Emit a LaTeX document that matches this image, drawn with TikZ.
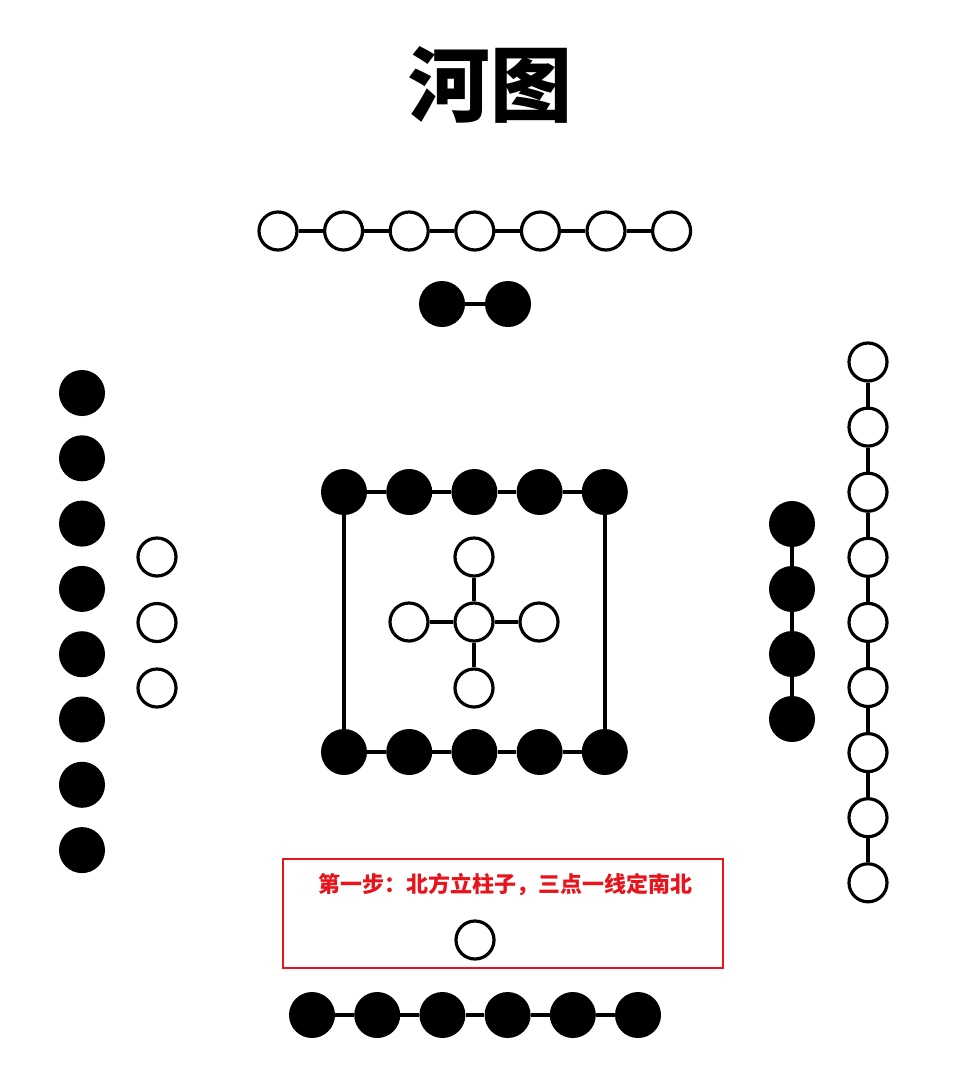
\documentclass[tikz,border=0pt]{standalone}
\usepackage{fontspec}
\newfontfamily\cjk{Noto Sans CJK SC}
\usepackage{tikz}
\definecolor{stepred}{HTML}{E8141C}
\tikzset{
  yang/.style={circle, draw=black, fill=white, line width=3.2pt, minimum size=38pt, inner sep=0pt},
  yin/.style={circle, fill=black, minimum size=46pt, inner sep=0pt},
  rod/.style={line width=3.5pt}
}

\begin{document}
\begin{tikzpicture}[x=1pt, y=-1pt]
\useasboundingbox[fill=white] (0,0) rectangle (955,1066);
\node[font=\cjk\bfseries\fontsize{82}{82}\selectfont] (title) at (490,85) {河图};
\foreach \i in {1,...,7} \node[yang] (s\i) at (278+65.6*\i-65.6,231) {};
\foreach \i [evaluate=\i as \j using int(\i+1)] in {1,...,6} \draw[rod] (s\i) -- (s\j);
\node[yin] (p1) at (442,304) {};
\node[yin] (p2) at (508,304) {};
\draw[rod] (p1) -- (p2);
\foreach \i in {1,...,8} \node[yin] (w\i) at (82,393+65.3*\i-65.3) {};
\foreach \i in {1,...,3} \node[yang] (v\i) at (157,557+65.5*\i-65.5) {};
\foreach \i in {1,...,5} {
  \node[yin] (c\i) at (344+65.2*\i-65.2,492) {};
  \node[yin] (d\i) at (344+65.2*\i-65.2,752) {};
}
\foreach \i [evaluate=\i as \j using int(\i+1)] in {1,...,4} {
  \draw[rod] (c\i) -- (c\j);
  \draw[rod] (d\i) -- (d\j);
}
\draw[rod] (c1) -- (d1);
\draw[rod] (c5) -- (d5);
\node[yang] (m) at (474,622) {};
\node[yang] (mu) at (474,557) {};
\node[yang] (md) at (474,688) {};
\node[yang] (ml) at (409,622) {};
\node[yang] (mr) at (539,622) {};
\foreach \k in {mu,md,ml,mr} \draw[rod] (m) -- (\k);
\foreach \i in {1,...,4} \node[yin] (e\i) at (792,524+65*\i-65) {};
\foreach \i [evaluate=\i as \j using int(\i+1)] in {1,...,3} \draw[rod] (e\i) -- (e\j);
\foreach \i in {1,...,9} \node[yang] (f\i) at (868,362+65.1*\i-65.1) {};
\foreach \i [evaluate=\i as \j using int(\i+1)] in {1,...,8} \draw[rod] (f\i) -- (f\j);
\draw[stepred, line width=1.8pt] (283,859) rectangle (723,968);
\node[text=stepred, font=\cjk\bfseries\fontsize{22}{22}\selectfont] (note) at (505,885) {第一步：北方立柱子，三点一线定南北};
\node[yang] (n) at (475,940) {};
\foreach \i in {1,...,6} \node[yin] (b\i) at (312+65.2*\i-65.2,1015) {};
\foreach \i [evaluate=\i as \j using int(\i+1)] in {1,...,5} \draw[rod] (b\i) -- (b\j);
\end{tikzpicture}
\end{document}
